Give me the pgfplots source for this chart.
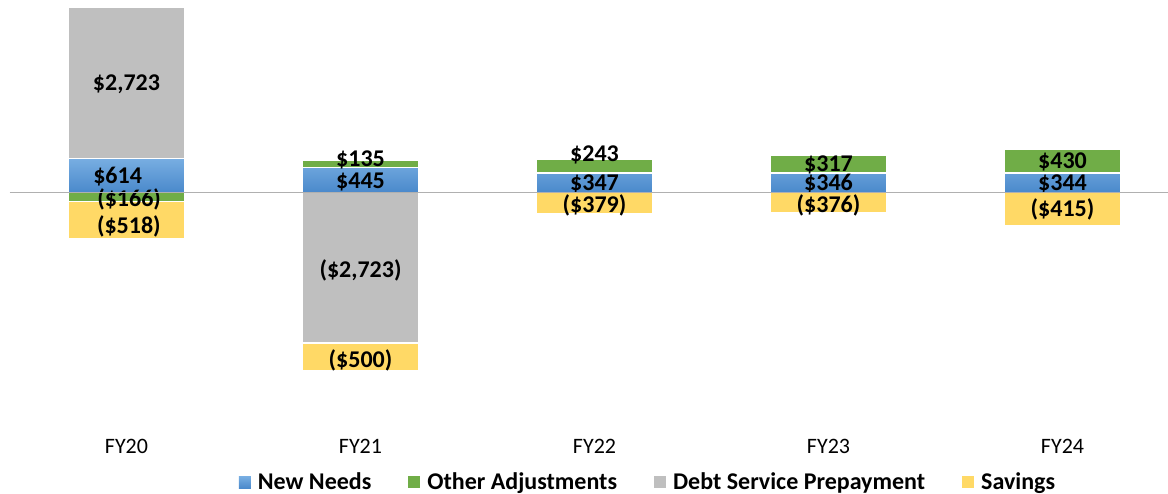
\documentclass[border=0pt]{standalone}
\usepackage{fontspec}
\setmainfont{Carlito}
\usepackage{pgfplots}
\pgfplotsset{compat=1.18}
\definecolor{nnTop}{HTML}{78AEE2}
\definecolor{nnBot}{HTML}{4A89CB}
\definecolor{oaG}{HTML}{70AD47}
\definecolor{dsG}{HTML}{BFBFBF}
\definecolor{svY}{HTML}{FFD966}
\definecolor{zl}{HTML}{B0B0B0}
\pgfplotsset{
  base/.style={scale only axis, width=579.25pt, height=207pt,
    xmin=-0.5, xmax=4.4509, ymin=-4002, ymax=3471,
    ybar stacked, bar width=58.5pt, axis line style={draw=none},
    ytick=\empty, clip=false, at={(4.75pt,39.5pt)}, anchor=south west},
  seg/.style={draw=white, line width=0.75pt}
}
\tikzset{lbl/.style={font=\fontsize{12}{14}\selectfont\bfseries, inner sep=0pt}}
\begin{document}
\begin{tikzpicture}
\useasboundingbox (0,0) rectangle (584pt,246.5pt);
% positive stack
\begin{axis}[base,
  xtick={0,1,2,3,4}, xticklabels={FY20,FY21,FY22,FY23,FY24},
  major tick length=0pt,
  x tick label style={font=\fontsize{11}{13}\selectfont, anchor=base, yshift=-19.65pt},
  legend columns=4,
  legend style={draw=none, fill=none, at={(0.5533,-0.165)}, anchor=center,
    font=\fontsize{12}{14}\selectfont\bfseries,
    nodes={inner xsep=3.5pt},
    /tikz/every even column/.append style={column sep=15pt}},
  legend image code/.code={\fill[#1,draw=none] (0pt,-3pt) rectangle (6pt,3pt);}]
\addplot[seg, fill=nnBot, top color=nnTop, bottom color=nnBot] coordinates {(0,614) (1,445) (2,347) (3,346) (4,344)};
\addlegendentry{New Needs}
\addplot[seg, fill=oaG] coordinates {(0,0) (1,135) (2,243) (3,317) (4,430)};
\addlegendentry{Other Adjustments}
\addplot[seg, fill=dsG] coordinates {(0,2723) (1,0) (2,0) (3,0) (4,0)};
\addlegendentry{Debt Service Prepayment}
\addplot[seg, fill=svY] coordinates {(0,0) (1,0) (2,0) (3,0) (4,0)};
\addlegendentry{Savings}
\end{axis}
% negative stack
\begin{axis}[base, xtick=\empty]
\addplot[seg, fill=oaG] coordinates {(0,-166) (1,0) (2,0) (3,0) (4,0)};
\addplot[seg, fill=dsG] coordinates {(0,0) (1,-2723) (2,0) (3,0) (4,0)};
\addplot[seg, fill=svY] coordinates {(0,-670) (1,-500) (2,-379) (3,-376) (4,-600)};
\end{axis}
% zero line and data labels
\begin{axis}[base, xtick=\empty]
\draw[zl, line width=0.7pt] (axis cs:-0.5,0) -- (axis cs:4.4509,0);
\node[lbl] at (axis cs:0,1955) {\$2,723};
\node[lbl] at (axis cs:-0.038,282) {\$614};
\node[lbl] at (axis cs:0.011,-126) {(\$166)};
\node[lbl] at (axis cs:0.01,-608) {(\$518)};
\node[lbl] at (axis cs:1,583) {\$135};
\node[lbl] at (axis cs:1,191) {\$445};
\node[lbl] at (axis cs:1,-1417) {(\$2,723)};
\node[lbl] at (axis cs:1,-3027) {(\$500)};
\node[lbl] at (axis cs:2,673) {\$243};
\node[lbl] at (axis cs:2,150) {\$347};
\node[lbl] at (axis cs:2,-229) {(\$379)};
\node[lbl] at (axis cs:3,493) {\$317};
\node[lbl] at (axis cs:3,150) {\$346};
\node[lbl] at (axis cs:3,-238) {(\$376)};
\node[lbl] at (axis cs:4,552) {\$430};
\node[lbl] at (axis cs:4,150) {\$344};
\node[lbl] at (axis cs:4,-311) {(\$415)};
\end{axis}
\end{tikzpicture}
\end{document}
